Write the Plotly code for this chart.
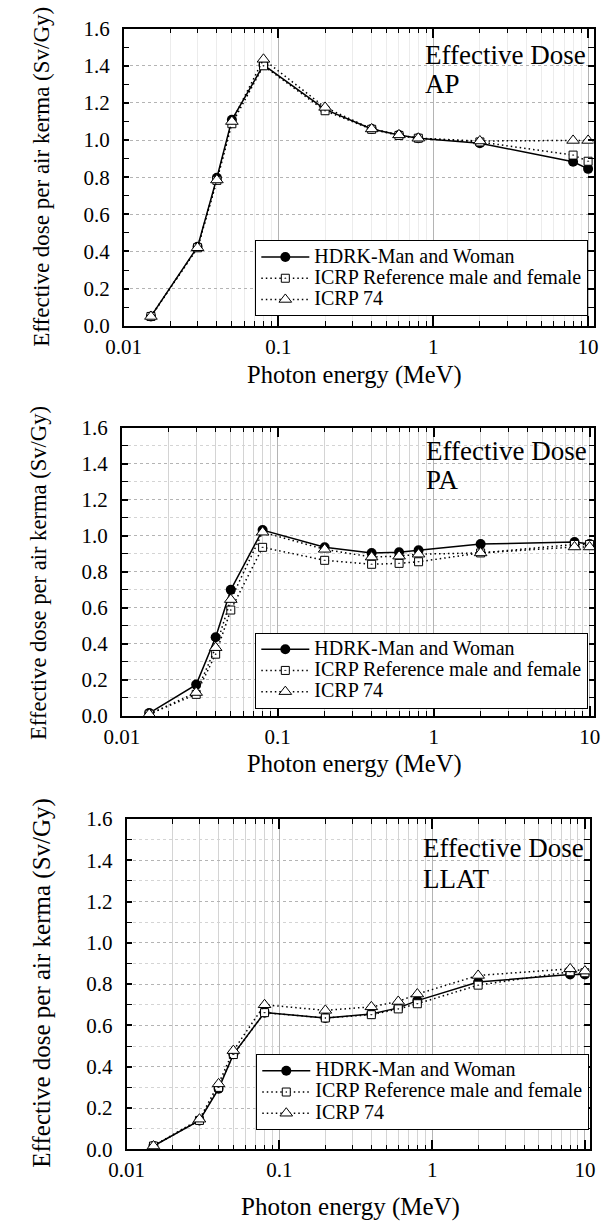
import plotly.graph_objects as go

# ---------------- data ----------------
energy = [0.015, 0.03, 0.04, 0.05, 0.08, 0.2, 0.4, 0.6, 0.8, 2, 8, 10]

hdrk_ap = [0.05, 0.425, 0.797, 1.109, 1.405, 1.165, 1.06, 1.027, 1.01, 0.983, 0.883, 0.845]
ref_ap = [0.05, 0.42, 0.783, 1.088, 1.40, 1.158, 1.058, 1.025, 1.01, 0.99, 0.919, 0.886]
icrp74_ap = [0.05, 0.42, 0.785, 1.10, 1.435, 1.176, 1.06, 1.028, 1.01, 0.995, 0.998, 0.998]

hdrk_pa = [0.016, 0.174, 0.437, 0.70, 1.032, 0.936, 0.905, 0.909, 0.92, 0.954, 0.965, 0.954]
ref_pa = [0.01, 0.12, 0.343, 0.588, 0.936, 0.864, 0.842, 0.847, 0.856, 0.905, 0.952, 0.952]
icrp74_pa = [0.01, 0.13, 0.379, 0.646, 1.02, 0.925, 0.882, 0.887, 0.898, 0.905, 0.938, 0.938]

hdrk_ll = [0.016, 0.14, 0.293, 0.46, 0.662, 0.636, 0.655, 0.685, 0.72, 0.81, 0.847, 0.847]
ref_ll = [0.016, 0.14, 0.30, 0.459, 0.662, 0.636, 0.652, 0.68, 0.705, 0.795, 0.86, 0.855]
icrp74_ll = [0.016, 0.146, 0.317, 0.478, 0.70, 0.673, 0.69, 0.716, 0.752, 0.842, 0.874, 0.863]

series_names = ["HDRK-Man and Woman", "ICRP Reference male and female", "ICRP 74"]
panel_labels = ["AP", "PA", "LLAT"]
panel_title = "Effective Dose"
x_title = "Photon energy (MeV)"
y_title = "Effective dose per air kerma (Sv/Gy)"

x_ticks = [0.01, 0.1, 1, 10]
x_ticklabels = ["0.01", "0.1", "1", "10"]
x_minor_ticks = [0.02, 0.03, 0.04, 0.05, 0.06, 0.07, 0.08, 0.09,
                 0.2, 0.3, 0.4, 0.5, 0.6, 0.7, 0.8, 0.9,
                 2, 3, 4, 5, 6, 7, 8, 9]

# ---------------- layout geometry ----------------
W, H = 612, 1228
FONT = "Liberation Serif"

panels = [
    dict(vals=(hdrk_ap, ref_ap, icrp74_ap), left=110, right=599, top=17, bottom=320,
         xmax=1.035, minorgrid="#ececec", minorygrid=False,
         leg=(247, 233), ann=(422, 44, 73), ytitle=(25, 168, 23), xtitle=(350, 370, 24.5), tick=21),
    dict(vals=(hdrk_pa, ref_pa, icrp74_pa), left=108, right=600, top=424, bottom=718,
         xmax=1.031, minorgrid="#d4d4d4", minorygrid=True,
         leg=(247, 633), ann=(423, 448, 477), ytitle=(22, 572, 22.6), xtitle=(350, 767, 24.5), tick=21),
    dict(vals=(hdrk_ll, ref_ll, icrp74_ll), left=113, right=595, top=823, bottom=1160,
         xmax=1.031, minorgrid="#d4d4d4", minorygrid=True,
         leg=(248, 1063), ann=(419, 853, 884), ytitle=(25, 990, 25), xtitle=(346, 1219, 25), tick=21),
]

fig = go.Figure()
layout = dict(width=W, height=H, margin=dict(l=0, r=0, t=0, b=0),
              paper_bgcolor="white", plot_bgcolor="white",
              font=dict(family=FONT, color="black"), showlegend=True)
annotations = []

DOT = "1.5px,3px"
styles = [
    dict(mode="lines+markers", line=dict(color="black", width=1.5),
         marker=dict(symbol="circle", size=10, color="black")),
    dict(mode="lines+markers", line=dict(color="black", width=1.5, dash=DOT),
         marker=dict(symbol="square-dot", size=8, color="white", line=dict(color="black", width=1))),
    dict(mode="lines+markers", line=dict(color="black", width=1.5, dash=DOT),
         marker=dict(symbol="triangle-up", size=11, color="white", line=dict(color="black", width=1))),
]

for i, p in enumerate(panels):
    n = "" if i == 0 else str(i + 1)
    xa, ya = "x" + n, "y" + n
    legname = "legend" + n
    for vals, name, st in zip(p["vals"], series_names, styles):
        fig.add_trace(go.Scatter(x=energy, y=vals,
                                 name='<span style="font-size:20px">' + name + '</span>',
                                 xaxis=xa, yaxis=ya, legend=legname, **st))
    xdom = [p["left"] / W, p["right"] / W]
    ydom = [1 - p["bottom"] / H, 1 - p["top"] / H]
    layout["xaxis" + n] = dict(
        type="log", range=[-2, p["xmax"]], domain=xdom, anchor=ya,
        tickvals=x_ticks, ticktext=x_ticklabels, ticks="inside", ticklen=10, tickwidth=1.5,
        tickcolor="black", showline=True, linecolor="black", linewidth=1.5, mirror="allticks",
        showgrid=True, gridcolor="#b4b4b4", gridwidth=1, zeroline=False, ticklabelstandoff=1,
        tickfont=dict(size=p["tick"], family=FONT),
        minor=dict(tickvals=x_minor_ticks, ticks="inside", ticklen=5, tickwidth=1,
                   tickcolor="black", showgrid=True, gridcolor=p["minorgrid"], gridwidth=1),
    )
    layout["yaxis" + n] = dict(
        range=[0, 1.6], domain=ydom, anchor=xa, dtick=0.2, tick0=0, tickformat=".1f",
        ticks="inside", ticklen=6, tickwidth=1.5, tickcolor="black", ticklabelstandoff=8,
        showline=True, linecolor="black", linewidth=1.5, mirror="allticks",
        showgrid=True, gridcolor="#b4b4b4", griddash="dot", gridwidth=1, zeroline=False,
        tickfont=dict(size=p["tick"], family=FONT),
        minor=dict(dtick=0.1, ticks="inside", ticklen=6, tickwidth=1, tickcolor="black",
                   showgrid=p["minorygrid"], gridcolor=p["minorgrid"], gridwidth=1),
    )
    layout[legname] = dict(
        x=p["leg"][0] / W, y=1 - p["leg"][1] / H, xanchor="left", yanchor="top",
        xref="paper", yref="paper", bgcolor="white", bordercolor="black", borderwidth=1,
        font=dict(size=14, family=FONT, color="black"), tracegroupgap=0, itemwidth=48,
    )
    ax, ay1, ay2 = p["ann"]
    annotations.append(dict(text=panel_title, x=ax / W, y=1 - ay1 / H, xref="paper", yref="paper",
                            xanchor="left", yanchor="middle", showarrow=False,
                            font=dict(size=27, family=FONT)))
    annotations.append(dict(text=panel_labels[i], x=ax / W, y=1 - ay2 / H, xref="paper", yref="paper",
                            xanchor="left", yanchor="middle", showarrow=False,
                            font=dict(size=27, family=FONT)))
    tx, ty, ts = p["ytitle"]
    annotations.append(dict(text=y_title, x=tx / W, y=1 - ty / H, xref="paper", yref="paper",
                            xanchor="center", yanchor="middle", textangle=-90, showarrow=False,
                            font=dict(size=ts, family=FONT)))
    xx, xy, xs = p["xtitle"]
    annotations.append(dict(text=x_title, x=xx / W, y=1 - xy / H, xref="paper", yref="paper",
                            xanchor="center", yanchor="middle", showarrow=False,
                            font=dict(size=xs, family=FONT)))

layout["annotations"] = annotations
fig.update_layout(**layout)
fig.write_html("out.html", config={"displayModeBar": False},
               post_script="document.body.style.margin='0';document.body.style.overflow='hidden';")
